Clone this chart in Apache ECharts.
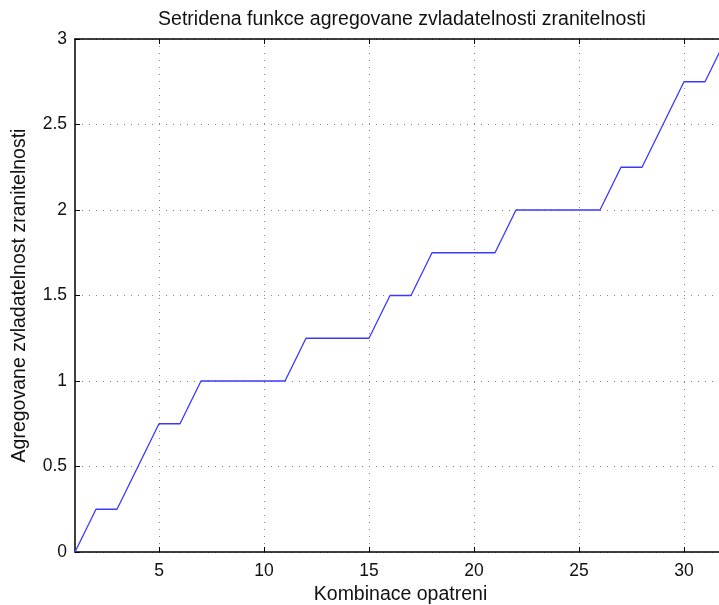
<!DOCTYPE html>
<html><head><meta charset="utf-8">
<script src="https://cdn.jsdelivr.net/npm/echarts@6/dist/echarts.min.js"></script>
<style>html,body{margin:0;padding:0;overflow:hidden;background:#fff}#c{width:780px;height:605px}</style>
</head><body><div id="c"></div>
<script>
const xValues = [1,2,3,4,5,6,7,8,9,10,11,12,13,14,15,16,17,18,19,20,21,22,23,24,25,26,27,28,29,30,31,32];
const yValues = [0,0.25,0.25,0.5,0.75,0.75,1,1,1,1,1,1.25,1.25,1.25,1.25,1.5,1.5,1.75,1.75,1.75,1.75,2,2,2,2,2,2.25,2.25,2.5,2.75,2.75,3];
const xTicks = [5,10,15,20,25,30];
const titleText = 'Setridena funkce agregovane zvladatelnosti zranitelnosti';
const xName = 'Kombinace opatreni';
const yName = 'Agregovane zvladatelnost zranitelnosti';

const font = '"Liberation Sans", Arial, sans-serif';
const chart = echarts.init(document.getElementById('c'), null, {renderer:'canvas'});
const axisLine = {show:true, lineStyle:{color:'#000', width:1.5}};
const split = {show:true, lineStyle:{color:'#888', type:[1,6], width:1}};
chart.setOption({
  animation:false,
  title:{text:titleText, left:397, top:5, textAlign:'center',
    textStyle:{fontFamily:font, fontSize:19.5, fontWeight:'normal', color:'#111'}},
  grid:{left:75, top:39, width:651, height:513, containLabel:false, outerBoundsMode:'none'},
  xAxis:[{
    type:'value', min:1, max:32, position:'bottom',
    name:xName, nameLocation:'middle', nameGap:30,
    nameTextStyle:{fontFamily:font, fontSize:19.5, color:'#111'},
    axisLine:axisLine,
    axisTick:{show:true, inside:true, length:5, customValues:xTicks, lineStyle:{color:'#000'}},
    axisLabel:{customValues:xTicks, fontFamily:font, fontSize:17.5, color:'#111', margin:10},
    splitLine:split
  },{
    type:'value', min:1, max:32, position:'top',
    axisLine:axisLine,
    axisTick:{show:true, inside:true, length:5, customValues:xTicks, lineStyle:{color:'#000'}},
    axisLabel:{show:false}, splitLine:{show:false}
  }],
  yAxis:[{
    type:'value', min:0, max:3, interval:0.5,
    name:yName, nameLocation:'middle', nameGap:45,
    nameTextStyle:{fontFamily:font, fontSize:19.5, color:'#111'},
    axisLine:axisLine,
    axisTick:{show:true, inside:true, length:5, lineStyle:{color:'#000'}},
    axisLabel:{fontFamily:font, fontSize:17.5, color:'#111', margin:8},
    splitLine:split
  }],
  series:[{
    type:'line', xAxisIndex:0, yAxisIndex:0,
    data:xValues.map((x,i)=>[x,yValues[i]]),
    showSymbol:false, symbol:'none',
    lineStyle:{color:'#3a3aff', width:1.3},
    clip:true
  }]
});
</script></body></html>
